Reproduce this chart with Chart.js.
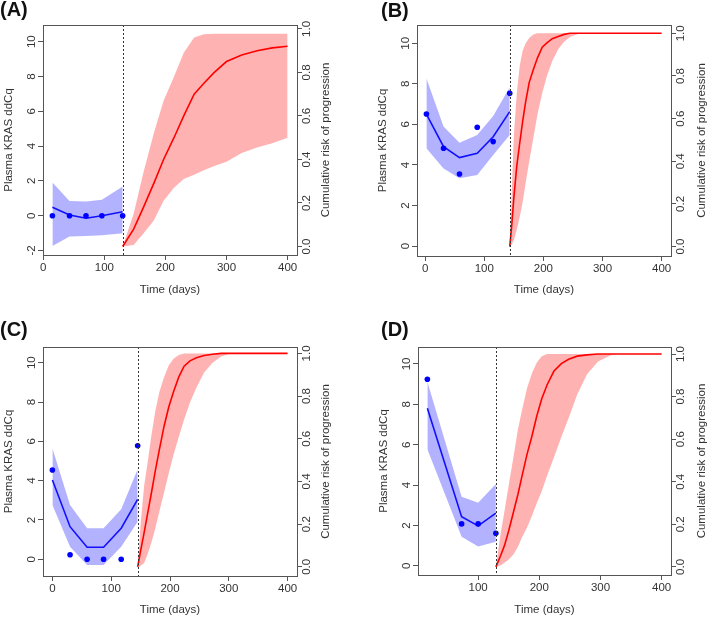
<!DOCTYPE html>
<html>
<head>
<meta charset="utf-8">
<script src="https://cdn.jsdelivr.net/npm/chart.js@4.4.1/dist/chart.umd.min.js"></script>
<style>
  body { margin: 0; background: #fff; }
  #fig { position: relative; width: 709px; height: 618px; overflow: hidden; }
  canvas { position: absolute; }
  .tag { position: absolute; font: bold 20px "Liberation Sans", Arial, sans-serif; line-height: 20px; color: #111; }
</style>
</head>
<body>
<div id="fig">
  <canvas id="cA" width="354" height="300" style="left:0;top:0"></canvas>
  <canvas id="cB" width="355" height="300" style="left:354px;top:0"></canvas>
  <canvas id="cC" width="354" height="318" style="left:0;top:300px"></canvas>
  <canvas id="cD" width="355" height="318" style="left:354px;top:300px"></canvas>
  <div class="tag" style="left:0;top:-1px">(A)</div>
  <div class="tag" style="left:381px;top:0">(B)</div>
  <div class="tag" style="left:0;top:319px">(C)</div>
  <div class="tag" style="left:381px;top:319px">(D)</div>
</div>
<script>
// tick labels
const xTicksFull = [0, 100, 200, 300, 400];
const xTicksD = [100, 200, 300, 400];
const yTicksA = [-2, 0, 2, 4, 6, 8, 10];
const yTicks = [0, 2, 4, 6, 8, 10];
const riskTicks = [0, 0.2, 0.4, 0.6, 0.8, 1.0];

// (A)
const aDays = [15, 43, 70, 96, 130];
const aObs = [0, 0, 0, 0, 0];
const aFit = [0.48, 0.04, -0.15, 0.0, 0.23];
const aFitHi = [1.9, 0.84, 0.82, 0.92, 1.68];
const aFitLo = [-1.74, -1.2, -1.17, -1.13, -1.01];
const aCut = 130;
const aRiskDays = [130, 148, 164, 181, 197, 214, 230, 247, 263, 280, 300, 325, 350, 375, 400];
const aRisk = [0, 0.08, 0.18, 0.29, 0.40, 0.50, 0.60, 0.70, 0.75, 0.80, 0.85, 0.88, 0.90, 0.913, 0.92];
const aRiskHi = [0, 0.15, 0.34, 0.52, 0.67, 0.78, 0.89, 0.96, 0.975, 0.978, 0.978, 0.978, 0.978, 0.978, 0.978];
const aRiskLo = [0, 0.007, 0.06, 0.12, 0.21, 0.27, 0.31, 0.33, 0.35, 0.37, 0.39, 0.43, 0.455, 0.475, 0.50];

// (B)
const bDays = [2, 31, 58, 88, 115, 143];
const bObs = [6.51, 4.82, 3.55, 5.86, 5.15, 7.53];
const bFit = [6.51, 4.90, 4.36, 4.57, 5.39, 6.63];
const bFitHi = [8.27, 5.89, 5.10, 5.48, 6.41, 7.83];
const bFitLo = [4.82, 3.83, 3.34, 3.50, 4.49, 5.48];
const bCut = 143;
const bRiskDays = [143, 146, 150, 155, 160, 165, 170, 176, 183, 190, 198, 206, 215, 225, 235, 245, 260, 280, 400];
const bRisk = [0, 0.085, 0.23, 0.38, 0.487, 0.59, 0.68, 0.77, 0.83, 0.885, 0.935, 0.955, 0.975, 0.985, 0.995, 1, 1, 1, 1];
const bRiskHi = [0, 0.22, 0.52, 0.72, 0.85, 0.92, 0.953, 0.978, 0.995, 1, 1, 1, 1, 1, 1, 1, 1, 1, 1];
const bRiskLo = [0, 0.01, 0.03, 0.08, 0.14, 0.21, 0.30, 0.40, 0.51, 0.62, 0.72, 0.80, 0.87, 0.925, 0.96, 0.983, 0.998, 1, 1];

// (C)
const cDays = [0, 30, 59, 87, 117, 145];
const cObs = [4.54, 0.23, 0, 0, 0, 5.78];
const cFit = [4.03, 1.66, 0.61, 0.61, 1.58, 3.05];
const cFitHi = [5.65, 2.76, 1.58, 1.58, 2.54, 4.58];
const cFitLo = [2.76, 0.64, -0.29, -0.29, 0.64, 1.91];
const cCut = 145;
const cRiskDays = [145, 150, 156, 162, 168, 175, 182, 190, 198, 206, 215, 224, 234, 245, 258, 272, 287, 303, 400];
const cRisk = [0, 0.075, 0.16, 0.25, 0.34, 0.45, 0.55, 0.66, 0.75, 0.82, 0.89, 0.94, 0.965, 0.98, 0.99, 0.996, 1, 1, 1];
const cRiskHi = [0, 0.2, 0.38, 0.49, 0.61, 0.73, 0.82, 0.89, 0.945, 0.975, 0.993, 1, 1, 1, 1, 1, 1, 1, 1];
const cRiskLo = [0, 0.005, 0.018, 0.06, 0.11, 0.18, 0.26, 0.35, 0.44, 0.525, 0.61, 0.69, 0.77, 0.84, 0.91, 0.955, 0.985, 1, 1];

// (D)
const dDays = [17, 73, 100, 129];
const dObs = [9.24, 2.08, 2.08, 1.62];
const dFit = [7.81, 2.44, 1.98, 2.61];
const dFitHi = [9.12, 3.43, 3.13, 4.06];
const dFitLo = [5.78, 1.45, 0.96, 1.2];
const dCut = 129;
const dRiskDays = [129, 137, 143, 150, 158, 165, 172, 180, 188, 196, 204, 213, 224, 236, 248, 262, 278, 296, 318, 330, 400];
const dRisk = [0, 0.055, 0.10, 0.17, 0.26, 0.34, 0.43, 0.53, 0.615, 0.71, 0.79, 0.857, 0.92, 0.955, 0.975, 0.99, 0.996, 1, 1, 1, 1];
const dRiskHi = [0, 0.16, 0.26, 0.385, 0.52, 0.645, 0.74, 0.84, 0.91, 0.96, 0.99, 1, 1, 1, 1, 1, 1, 1, 1, 1, 1];
const dRiskLo = [0, 0.008, 0.02, 0.035, 0.06, 0.095, 0.14, 0.185, 0.24, 0.30, 0.355, 0.43, 0.515, 0.61, 0.70, 0.81, 0.905, 0.965, 0.995, 1, 1];

const FONT = '"Liberation Sans", Arial, sans-serif';
const TEXT = '#333';
const AXIS = '#555';
const FS = 11.5;

function pts(xs, ys) {
  return xs.map((x, i) => ({ x: x, y: ys[i] }));
}

// box, dotted cut line and the right-hand title (reads bottom to top, like the left one)
const framePlugin = {
  id: 'frame',
  afterDatasetsDraw(chart, args, opts) {
    const ctx = chart.ctx;
    const a = chart.chartArea;
    const cx = Math.round(chart.scales.x.getPixelForValue(opts.cut)) + 0.5;
    ctx.save();
    ctx.lineWidth = 1;
    ctx.strokeStyle = '#333';
    ctx.setLineDash([2, 2]);
    ctx.beginPath();
    ctx.moveTo(cx, a.top);
    ctx.lineTo(cx, a.bottom);
    ctx.stroke();
    ctx.setLineDash([]);
    ctx.strokeStyle = AXIS;
    ctx.strokeRect(a.left + 0.5, a.top + 0.5, a.right - a.left, a.bottom - a.top);
    ctx.font = FS + 'px ' + FONT;
    ctx.fillStyle = TEXT;
    ctx.textAlign = 'center';
    ctx.textBaseline = 'middle';
    ctx.translate(a.right + opts.titleOffset, (a.top + a.bottom) / 2);
    ctx.rotate(-Math.PI / 2);
    ctx.fillText('Cumulative risk of progression', 0, 0);
    ctx.restore();
  }
};

function makePanel(id, p) {
  const canvas = document.getElementById(id);
  const W = canvas.width, H = canvas.height;
  const gridOpts = { drawOnChartArea: false, drawTicks: true, tickLength: 5, color: AXIS, lineWidth: 1 };
  const tickFont = { family: FONT, size: FS };
  const band = (data, color, axis) => ({
    data: data, borderColor: 'transparent', borderWidth: 0, pointRadius: 0,
    backgroundColor: color, yAxisID: axis
  });
  new Chart(canvas, {
    type: 'line',
    data: {
      datasets: [
        { data: pts(p.days, p.obs), showLine: false, pointRadius: 2.8, pointBorderWidth: 0,
          pointBackgroundColor: '#0000ff', yAxisID: 'y' },
        { data: pts(p.days, p.fit), borderColor: '#1010ff', borderWidth: 1.6, pointRadius: 0, fill: false, yAxisID: 'y' },
        { data: pts(p.riskDays, p.risk), borderColor: '#ff0000', borderWidth: 1.6, pointRadius: 0, fill: false, yAxisID: 'yR' },
        Object.assign(band(pts(p.days, p.fitHi), 'rgba(0,0,255,0.3)', 'y'), { fill: '+1' }),
        Object.assign(band(pts(p.days, p.fitLo), 'transparent', 'y'), { fill: false }),
        Object.assign(band(pts(p.riskDays, p.riskHi), 'rgba(255,0,0,0.3)', 'yR'), { fill: '+1' }),
        Object.assign(band(pts(p.riskDays, p.riskLo), 'transparent', 'yR'), { fill: false })
      ]
    },
    options: {
      responsive: false,
      animation: false,
      events: [],
      layout: { padding: { top: p.box[2], left: 0, right: 0, bottom: 0 } },
      plugins: {
        legend: { display: false },
        tooltip: { enabled: false },
        frame: { cut: p.cut, titleOffset: p.rTitle }
      },
      scales: {
        x: {
          type: 'linear', position: 'bottom', min: p.xr[0], max: p.xr[1],
          afterBuildTicks: s => { s.ticks = p.xTicks.map(v => ({ value: v })); },
          afterFit: s => { s.height = H - p.box[3]; },
          grid: gridOpts, border: { display: false },
          ticks: { autoSkip: false, maxRotation: 0, padding: 1, font: tickFont, color: TEXT },
          title: { display: true, text: 'Time (days)', font: tickFont, color: TEXT,
                   padding: { top: 0, bottom: p.xTitlePad } }
        },
        y: {
          type: 'linear', position: 'left', min: p.yr[0], max: p.yr[1],
          afterBuildTicks: s => { s.ticks = p.yTicks.map(v => ({ value: v })); },
          afterFit: s => { s.width = p.box[0]; },
          grid: gridOpts, border: { display: false },
          ticks: { autoSkip: false, minRotation: 90, maxRotation: 90, crossAlign: 'center', padding: 0,
                   font: tickFont, color: TEXT, callback: v => String(v) },
          title: { display: true, text: 'Plasma KRAS ddCq', font: tickFont, color: TEXT,
                   padding: { top: p.box[0] - 40.7, bottom: 0 } }
        },
        yR: {
          type: 'linear', position: 'right', min: p.rr[0], max: p.rr[1],
          afterBuildTicks: s => { s.ticks = riskTicks.map(v => ({ value: v })); },
          afterFit: s => { s.width = W - p.box[1]; },
          grid: gridOpts, border: { display: false },
          ticks: { autoSkip: false, minRotation: 90, maxRotation: 90, crossAlign: 'center', padding: -3,
                   font: tickFont, color: TEXT, callback: v => v.toFixed(1) }
        }
      }
    },
    plugins: [framePlugin]
  });
}

// box = [left, right, top, bottom] in canvas pixels
makePanel('cA', {
  days: aDays, obs: aObs, fit: aFit, fitHi: aFitHi, fitLo: aFitLo, cut: aCut,
  riskDays: aRiskDays, risk: aRisk, riskHi: aRiskHi, riskLo: aRiskLo,
  xTicks: xTicksFull, yTicks: yTicksA,
  box: [43, 297, 25, 255], xr: [-0.4, 415.4], yr: [-2.26, 10.96], rr: [-0.039, 1.018],
  xTitlePad: 3, rTitle: 28.5
});
makePanel('cB', {
  days: bDays, obs: bObs, fit: bFit, fitHi: bFitHi, fitLo: bFitLo, cut: bCut,
  riskDays: bRiskDays, risk: bRisk, riskHi: bRiskHi, riskLo: bRiskLo,
  xTicks: xTicksFull, yTicks: yTicks,
  box: [63, 317, 25, 256], xr: [-13.9, 415.9], yr: [-0.49, 10.90], rr: [-0.044, 1.039],
  xTitlePad: 3, rTitle: 31
});
makePanel('cC', {
  days: cDays, obs: cObs, fit: cFit, fitHi: cFitHi, fitLo: cFitLo, cut: cCut,
  riskDays: cRiskDays, risk: cRisk, riskHi: cRiskHi, riskLo: cRiskLo,
  xTicks: xTicksFull, yTicks: yTicks,
  box: [43, 297, 47, 276], xr: [-16, 416], yr: [-0.85, 10.80], rr: [-0.043, 1.030],
  xTitlePad: 1, rTitle: 28.5
});
makePanel('cD', {
  days: dDays, obs: dObs, fit: dFit, fitHi: dFitHi, fitLo: dFitLo, cut: dCut,
  riskDays: dRiskDays, risk: dRisk, riskHi: dRiskHi, riskLo: dRiskLo,
  xTicks: xTicksD, yTicks: yTicks,
  box: [64, 317, 47, 275], xr: [1.7, 415.3], yr: [-0.45, 10.84], rr: [-0.038, 1.033],
  xTitlePad: 1, rTitle: 31
});
</script>
</body>
</html>
